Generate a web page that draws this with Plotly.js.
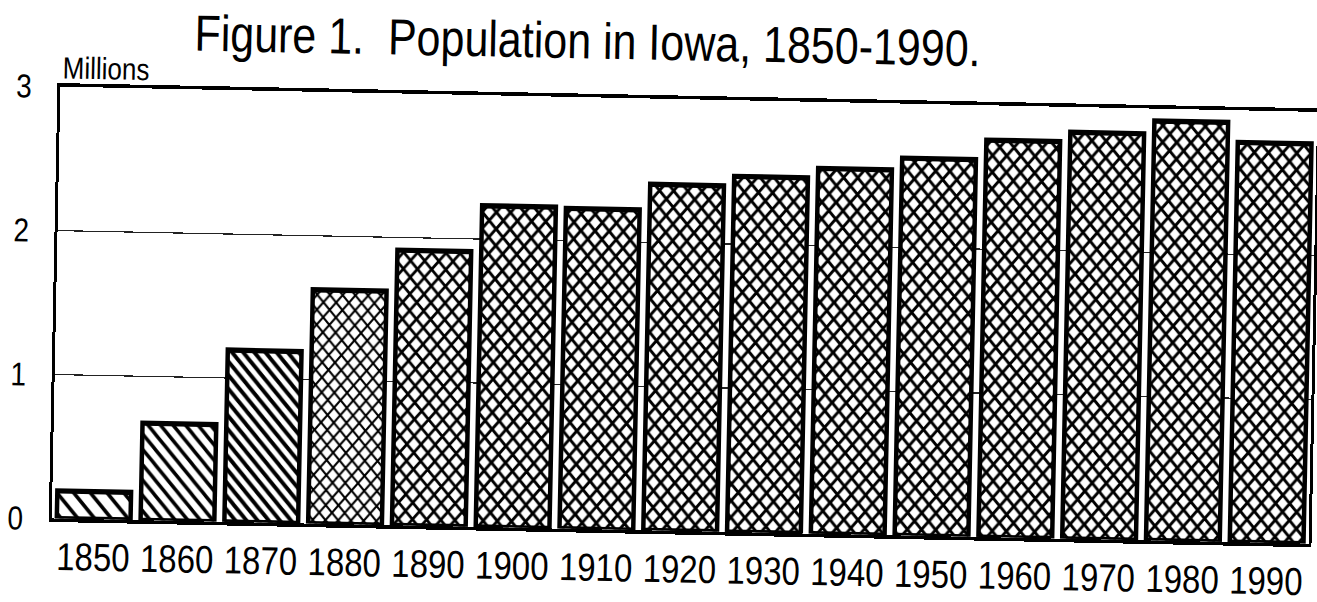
<!DOCTYPE html>
<html>
<head>
<meta charset="utf-8">
<script src="https://cdn.plot.ly/plotly-3.0.1.min.js"></script>
<style>
  html, body { margin: 0; padding: 0; background: #fff; overflow: hidden; }
  /* the scanned original is slightly tilted and vertically stretched */
  #chart { width: 1317px; height: 602px; transform: rotate(1.15deg) scale(1, 1.18); transform-origin: 685px 314px; }
</style>
</head>
<body>
<div id="chart"></div>
<script>
// Data (population of Iowa, millions)
const years = ["1850","1860","1870","1880","1890","1900","1910","1920","1930","1940","1950","1960","1970","1980","1990"];
const population = [0.192, 0.675, 1.194, 1.625, 1.912, 2.232, 2.225, 2.404, 2.471, 2.538, 2.621, 2.758, 2.824, 2.914, 2.777];
const yTicks = [0, 1, 2, 3];

// hatch styles per bar (getting denser over time)
const hatchShapes = ["\\","\\","\\","x","x","x","x","x","x","x","x","x","x","x","x"];
const hatchSizes =  [12, 9, 8, 9, 10, 10, 10, 10, 10, 10, 10, 10, 10, 10, 10];
const hatchSolid =  [0.28, 0.36, 0.45, 0.38, 0.44, 0.48, 0.48, 0.48, 0.48, 0.48, 0.48, 0.48, 0.48, 0.48, 0.48];

const font = "Liberation Sans, Arial, Helvetica, sans-serif";

const trace = {
  type: "bar",
  x: years,
  y: population,
  marker: {
    color: "#ffffff",
    line: { color: "#000000", width: 4.5 },
    pattern: {
      shape: hatchShapes,
      size: hatchSizes,
      solidity: hatchSolid,
      fgcolor: "#000000",
      fgopacity: 1,
      bgcolor: "#ffffff",
      fillmode: "overlay"
    }
  },
  hoverinfo: "x+y"
};

const layout = {
  width: 1317,
  height: 602,
  margin: { l: 56, r: 4, t: 132, b: 104 },
  paper_bgcolor: "rgba(0,0,0,0)",
  plot_bgcolor: "#ffffff",
  bargap: 0.12,
  showlegend: false,
  title: {
    text: "Figure 1.\u00a0 Population in Iowa, 1850-1990.",
    font: { family: font, size: 43, color: "#000" },
    x: 189 / 1317, xanchor: "left", xref: "container",
    y: 1 - 84 / 602, yanchor: "middle", yref: "container"
  },
  xaxis: {
    type: "category",
    range: [-0.5, 14.5],
    showline: true, linecolor: "#000", linewidth: 3, mirror: true,
    ticks: "", showgrid: false,
    tickfont: { family: font, size: 33, color: "#000" },
    ticklabelstandoff: 1
  },
  yaxis: {
    range: [0, 3],
    tickvals: yTicks,
    ticktext: yTicks.map(String),
    showline: true, linecolor: "#000", linewidth: 3, mirror: true,
    ticks: "",
    showgrid: true, gridcolor: "#222", gridwidth: 1,
    zeroline: false,
    tickfont: { family: font, size: 28, color: "#000" },
    ticklabelstandoff: 20
  },
  annotations: [{
    text: "Millions",
    xref: "paper", yref: "paper",
    x: (101 - 56) / 1257, y: 1 + (132 - 116) / 366,
    xanchor: "center", yanchor: "middle",
    showarrow: false,
    font: { family: font, size: 26, color: "#000" }
  }]
};

Plotly.newPlot("chart", [trace], layout, { displayModeBar: false, staticPlot: true });
</script>
</body>
</html>
